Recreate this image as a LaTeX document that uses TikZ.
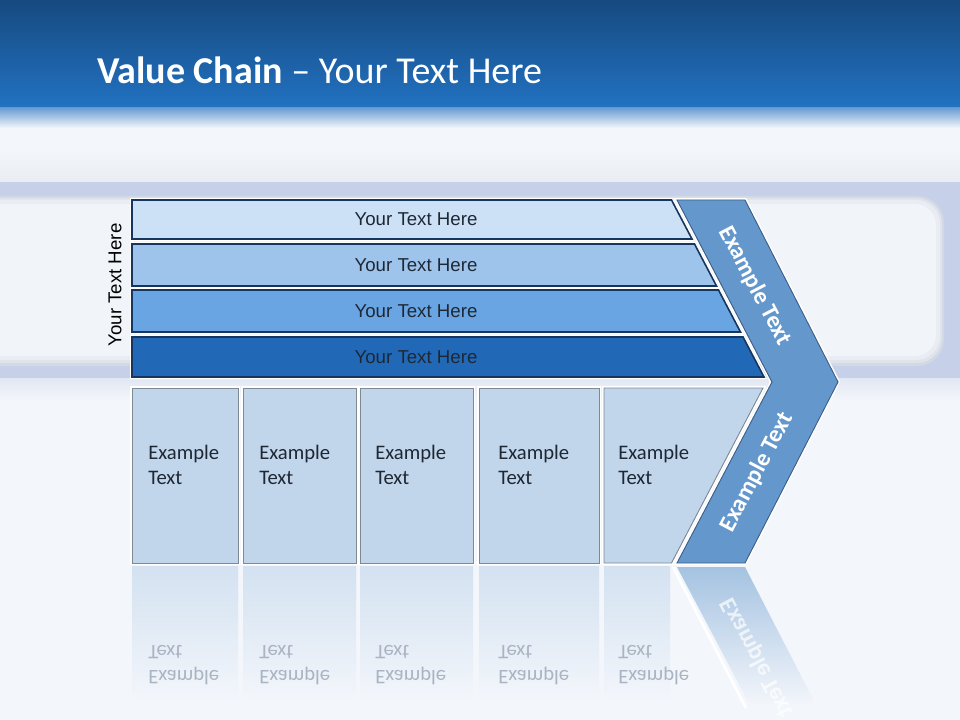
\documentclass[tikz,border=0pt]{standalone}
\usepackage{fontspec}
\setmainfont{Carlito}
\newfontfamily\barfont{Liberation Sans}

\definecolor{titletop}{HTML}{164A80}
\definecolor{titlebot}{HTML}{2272C2}
\definecolor{bgpale}{HTML}{F3F6FB}
\definecolor{lavband}{HTML}{C6D1E9}
\definecolor{panelrimA}{HTML}{D3D9E4}
\definecolor{panelrimB}{HTML}{DFE4EC}
\definecolor{panelrimC}{HTML}{E9EDF3}
\definecolor{panelfill}{HTML}{F1F4F9}
\definecolor{barA}{HTML}{CDE1F6}
\definecolor{barB}{HTML}{9EC4EC}
\definecolor{barC}{HTML}{69A5E2}
\definecolor{barD}{HTML}{2169B7}
\definecolor{barline}{HTML}{16365F}
\definecolor{chevfill}{HTML}{6498CC}
\definecolor{chevline}{HTML}{3D5E88}
\definecolor{boxfill}{HTML}{C2D6EB}
\definecolor{boxline}{HTML}{7E8996}
\definecolor{inktext}{HTML}{1E2835}
\definecolor{mirrortext}{HTML}{AAB4C2}

\usetikzlibrary{positioning}

\begin{document}
\begin{tikzpicture}[x=0.75pt, y=-0.75pt,
	barshape/.style={draw=barline, line width=1.2pt, preaction={draw=white, line width=3pt}},
	boxshape/.style={fill=boxfill, draw=boxline, line width=0.7pt, preaction={draw=white, line width=3pt}},
	bartext/.style={inner sep=0, text=inktext, font=\barfont\fontsize{14}{16}\selectfont},
	boxtext/.style={anchor=west, align=left, inner sep=0, text=inktext, font=\fontsize{15.5}{18.8}\selectfont},
	mirrorbox/.style={anchor=west, align=left, inner sep=0, text=mirrortext, yscale=-1, font=\fontsize{15.5}{18.8}\selectfont},
	chevtext/.style={inner sep=0, text=white, font=\bfseries\fontsize{18}{20}\selectfont}]
	\useasboundingbox (0,0) rectangle (960,720);

	% background
	\fill[bgpale] (0,0) rectangle (960,720);
	\shade[top color=titletop, bottom color=titlebot] (0,0) rectangle (960,108);
	\shade[top color=titlebot!55!lavband, bottom color=bgpale] (0,108) rectangle (960,128);
	\shade[top color=bgpale, bottom color=black!4!bgpale] (0,150) rectangle (960,182);
	\fill[lavband] (0,182) rectangle (960,378);
	\shade[top color=lavband!40!bgpale, bottom color=bgpale] (0,378) rectangle (960,400);
	\fill[panelrimA, rounded corners=20pt] (-40,196) rectangle (944,366);
	\fill[panelrimB, rounded corners=19pt] (-40,198) rectangle (942,363);
	\fill[panelrimC, rounded corners=18pt] (-40,200) rectangle (940,360);
	\fill[panelfill, rounded corners=16pt] (-40,204) rectangle (936,356);

	\draw (97,84) node[anchor=base west, inner sep=0, text=white, font=\fontsize{28.5}{32}\selectfont] (title) {\textbf{Value Chain} – Your Text Here};

	% reflection
	\shade[top color=boxfill!65!bgpale, bottom color=bgpale] (132,566) rectangle (238,700);
	\shade[top color=boxfill!65!bgpale, bottom color=bgpale] (243,566) rectangle (356,700);
	\shade[top color=boxfill!65!bgpale, bottom color=bgpale] (360,566) rectangle (473,700);
	\shade[top color=boxfill!65!bgpale, bottom color=bgpale] (479,566) rectangle (599,700);
	\shade[top color=boxfill!65!bgpale, bottom color=bgpale] (604,566) rectangle (670,700);
	\shade[top color=chevfill!55!bgpale, bottom color=bgpale] (677,567) -- (745,567) -- (816,705) -- (750,705) -- cycle;
	\draw[white, line width=2pt] (673,567) -- (746,708);

	\draw (148,665) node[mirrorbox] (mirA) {Example\\Text};
	\draw (259,665) node[mirrorbox] (mirB) {Example\\Text};
	\draw (375,665) node[mirrorbox] (mirC) {Example\\Text};
	\draw (498,665) node[mirrorbox] (mirD) {Example\\Text};
	\draw (618,665) node[mirrorbox] (mirE) {Example\\Text};
	\draw (757,658) node[chevtext, text opacity=0.7, yscale=-1, rotate=62.4] (mirchev) {Example Text};

	% four bars
	\draw[barshape, fill=barA] (132,200) -- (671.5,200) -- (692,239) -- (132,239) -- cycle;
	\draw[barshape, fill=barB] (132,244) -- (694.5,244) -- (716.5,286) -- (132,286) -- cycle;
	\draw[barshape, fill=barC] (132,290) -- (718.5,290) -- (740.5,332) -- (132,332) -- cycle;
	\draw[barshape, fill=barD] (132,337) -- (743,337) -- (764,377) -- (132,377) -- cycle;

	\draw (416,219.5) node[bartext] (barTxtA) {Your Text Here};
	\draw (416,265) node[bartext] (barTxtB) {Your Text Here};
	\draw (416,311) node[bartext] (barTxtC) {Your Text Here};
	\draw (416,357) node[bartext] (barTxtD) {Your Text Here};

	\draw (115,285) node[bartext, text=black, rotate=90] (sideTxt) {Your Text Here};

	% five boxes
	\draw[boxshape] (132,388) rectangle (238,563);
	\draw[boxshape] (243,388) rectangle (356,563);
	\draw[boxshape] (360,388) rectangle (473,563);
	\draw[boxshape] (479,388) rectangle (599,563);
	\draw[boxshape] (604,388) -- (763,388) -- (671.5,563) -- (604,563) -- cycle;

	\draw (148,465) node[boxtext] (exA) {Example\\Text};
	\draw (259,465) node[boxtext] (exB) {Example\\Text};
	\draw (375,465) node[boxtext] (exC) {Example\\Text};
	\draw (498,465) node[boxtext] (exD) {Example\\Text};
	\draw (618,465) node[boxtext] (exE) {Example\\Text};

	% chevron
	\draw[fill=chevfill, draw=chevline, line width=0.7pt, preaction={draw=white, line width=3pt}]
		(677,200) -- (745,200) -- (838,382) -- (745,563) -- (677,563) -- (772,382) -- cycle;
	\draw (755,286) node[chevtext, rotate=-62.4] (chevTop) {Example Text};
	\draw (757,472) node[chevtext, rotate=62.4] (chevBot) {Example Text};
\end{tikzpicture}
\end{document}
